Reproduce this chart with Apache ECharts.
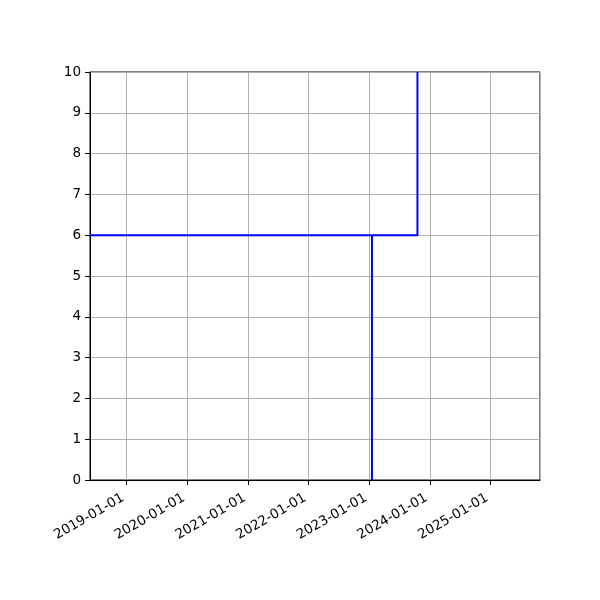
<!DOCTYPE html>
<html>
<head>
<meta charset="utf-8">
<script src="https://cdn.jsdelivr.net/npm/echarts@6/dist/echarts.min.js"></script>
<style>
  html, body { margin: 0; padding: 0; background: #fff; }
  #chart { width: 600px; height: 600px; }
</style>
</head>
<body>
<div id="chart"></div>
<script>
// axis range (dates)
var xMin = '2018-05-25'
var xMax = '2025-10-25'
var yTicks = [0, 1, 2, 3, 4, 5, 6, 7, 8, 9, 10]

// the step line: flat at 6, then up past the top
var stepDates = ['2018-05-25', '2023-10-18', '2023-10-18']
var stepValues = [6, 6, 10]
// the drop line down to 0
var dropDates = ['2023-01-17', '2023-01-17']
var dropValues = [0, 6]

function pairs(d, v){
  let out = []
  for(let i in d){
    out.push([d[i], v[i]])
  }
  return out
}

var font = 'DejaVu Sans'
var mChart = echarts.init(document.getElementById('chart'))
var option = {
  animation: false,
  grid: {
    left: 90, right: 60, top: 72, bottom: 120,
    show: true, borderColor: '#000', borderWidth: 1, backgroundColor: 'transparent'
  },
  xAxis: {
    type: 'time',
    min: xMin,
    max: xMax,
    minInterval: 365 * 24 * 3600 * 1000,
    maxInterval: 366 * 24 * 3600 * 1000,
    axisLine: { lineStyle: { color: '#000', width: 1 } },
    axisTick: { inside: false, length: 5, lineStyle: { color: '#000' } },
    splitLine: { show: true, lineStyle: { color: '#b0b0b0', width: 1 } },
    minorTick: { show: false },
    axisLabel: {
      rotate: 30,
      color: '#000',
      fontFamily: font,
      fontSize: 13.5,
      margin: 15,
      padding: [0, 4, 0, 0],
      showMinLabel: false,
      showMaxLabel: false,
      formatter: '{yyyy}-{MM}-{dd}'
    }
  },
  yAxis: {
    type: 'value',
    min: yTicks[0],
    max: yTicks[yTicks.length - 1],
    interval: 1,
    axisLine: { show: true, lineStyle: { color: '#000', width: 1 } },
    axisTick: { show: true, inside: false, length: 5, lineStyle: { color: '#000' } },
    splitLine: { show: true, lineStyle: { color: '#b0b0b0', width: 1 } },
    axisLabel: { color: '#000', fontFamily: font, fontSize: 13.5, margin: 9 }
  },
  series: [
    {
      type: 'line',
      data: pairs(stepDates, stepValues),
      showSymbol: false,
      clip: true,
      lineStyle: { color: '#0000ff', width: 2 }
    },
    {
      type: 'line',
      data: pairs(dropDates, dropValues),
      showSymbol: false,
      clip: true,
      lineStyle: { color: '#0000ff', width: 2 }
    }
  ]
}
mChart.setOption(option)
</script>
</body>
</html>
